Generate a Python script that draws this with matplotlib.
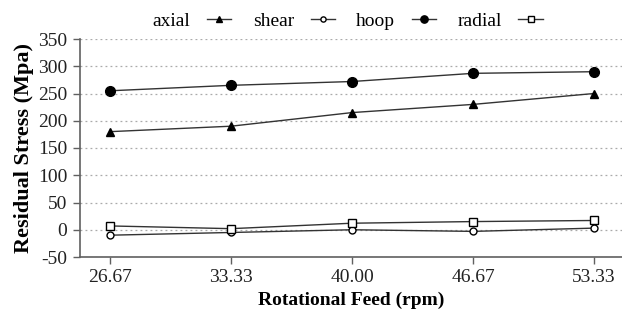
import matplotlib
matplotlib.use("Agg")
import matplotlib.pyplot as plt

plt.rcParams['font.family'] = ['Liberation Serif', 'DejaVu Serif']
plt.rcParams['axes.unicode_minus'] = False

feeds = ["26.67", "33.33", "40.00", "46.67", "53.33"]
axial = [180, 190, 215, 230, 250]
shear = [-10, -5, 0, -3, 3]
hoop = [255, 265, 272, 287, 290]
radial = [7, 2, 12, 15, 17]
yticks = [-50, 0, 50, 100, 150, 200, 250, 300, 350]

fig = plt.figure(figsize=(6.22, 3.09), dpi=100)
ax = fig.add_axes([80/622, 1-257/309, 542/622, 218/309])
x = list(range(len(feeds)))
lc = '#333333'
ax.plot(x, axial, color=lc, lw=1, marker='^', ms=6, mfc='black', mec='black', label='axial')
ax.plot(x, shear, color=lc, lw=1, marker='o', ms=5, mfc='white', mec='black', mew=1, label='shear')
ax.plot(x, hoop, color=lc, lw=1, marker='o', ms=7, mfc='black', mec='black', label='hoop')
ax.plot(x, radial, color=lc, lw=1, marker='s', ms=5.5, mfc='white', mec='black', mew=1, label='radial')

ax.set_xlim(-0.248, 4.23)
ax.set_ylim(-50, 350)
ax.set_yticks(yticks)
ax.set_xticks(x)
ax.set_xticklabels(feeds)
ax.yaxis.grid(True, linestyle=(0, (1.5, 2.5)), color='#aaaaaa', lw=0.9)
ax.set_axisbelow(True)
for s in ['top', 'right']:
    ax.spines[s].set_visible(False)
for s in ['left', 'bottom']:
    ax.spines[s].set_color('#606060')
    ax.spines[s].set_linewidth(1.2)
ax.tick_params(axis='both', labelsize=14, colors='#606060', labelcolor='#222222', length=5, width=1, pad=4)
ax.set_xlabel('Rotational Feed (rpm)', fontsize=14, fontweight='bold', labelpad=4)
ax.set_ylabel('Residual Stress (Mpa)', fontsize=16, fontweight='bold', labelpad=3)
ax.legend(loc='center', bbox_to_anchor=(0.494, (309 - 21 - (309 - 257)) / 218), ncol=4, frameon=False,
          markerfirst=False, fontsize=14, handlelength=1.25, columnspacing=1.1,
          handletextpad=0.85, borderaxespad=0, markerscale=0.75)
fig.savefig('out.png', dpi=100)
